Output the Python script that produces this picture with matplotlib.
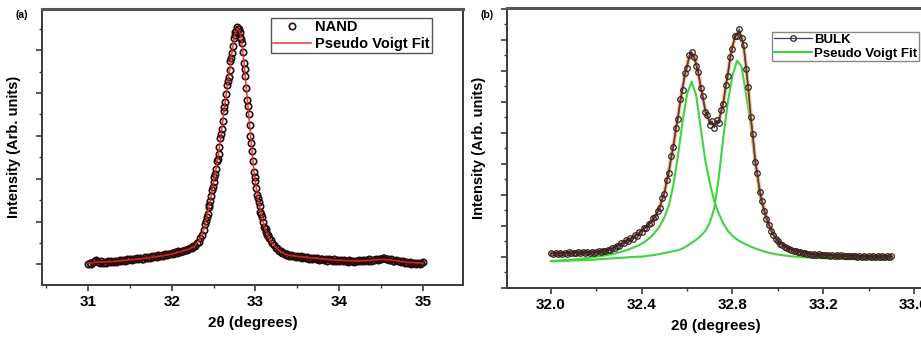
import matplotlib
matplotlib.use("Agg")
import matplotlib.pyplot as plt
from matplotlib.ticker import MultipleLocator, FormatStrFormatter

plt.rcParams['font.family'] = ['Liberation Sans', 'DejaVu Sans']
plt.rcParams['font.weight'] = 'bold'

# ---------------- Panel (a): NAND ----------------
nand_x = [
    31.00, 31.02, 31.04, 31.06, 31.08, 31.10, 31.12, 31.14, 31.16, 31.18,
    31.20, 31.22, 31.24, 31.26, 31.28, 31.30, 31.32, 31.34, 31.36, 31.38,
    31.40, 31.42, 31.44, 31.46, 31.48, 31.50, 31.52, 31.54, 31.56, 31.58,
    31.60, 31.62, 31.64, 31.66, 31.68, 31.70, 31.72, 31.74, 31.76, 31.78,
    31.80, 31.82, 31.84, 31.86, 31.88, 31.90, 31.92, 31.94, 31.96, 31.98,
    32.00, 32.02, 32.04, 32.06, 32.08, 32.10, 32.12, 32.14, 32.16, 32.18,
    32.20, 32.22, 32.24, 32.26, 32.28, 32.30, 32.32, 32.34, 32.36, 32.38,
    32.40, 32.41, 32.42, 32.43, 32.44, 32.45, 32.46, 32.47, 32.48, 32.49,
    32.50, 32.51, 32.52, 32.53, 32.54, 32.55, 32.56, 32.57, 32.58, 32.59,
    32.60, 32.61, 32.62, 32.63, 32.64, 32.65, 32.66, 32.67, 32.68, 32.69,
    32.70, 32.71, 32.72, 32.73, 32.74, 32.75, 32.76, 32.77, 32.78, 32.79,
    32.80, 32.81, 32.82, 32.83, 32.84, 32.85, 32.86, 32.87, 32.88, 32.89,
    32.90, 32.91, 32.92, 32.93, 32.94, 32.95, 32.96, 32.97, 32.98, 32.99,
    33.00, 33.01, 33.02, 33.03, 33.04, 33.05, 33.06, 33.07, 33.08, 33.09,
    33.10, 33.11, 33.12, 33.13, 33.14, 33.15, 33.16,
    33.18, 33.20, 33.22, 33.24, 33.26, 33.28, 33.30, 33.32, 33.34, 33.36,
    33.38, 33.40, 33.42, 33.44, 33.46, 33.48, 33.50, 33.52, 33.54, 33.56,
    33.58, 33.60, 33.62, 33.64, 33.66, 33.68, 33.70, 33.72, 33.74, 33.76,
    33.78, 33.80, 33.82, 33.84, 33.86, 33.88, 33.90, 33.92, 33.94, 33.96,
    33.98, 34.00, 34.02, 34.04, 34.06, 34.08, 34.10, 34.12, 34.14, 34.16,
    34.18, 34.20, 34.22, 34.24, 34.26, 34.28, 34.30, 34.32, 34.34, 34.36,
    34.38, 34.40, 34.42, 34.44, 34.46, 34.48, 34.50, 34.52, 34.54, 34.56,
    34.58, 34.60, 34.62, 34.64, 34.66, 34.68, 34.70, 34.72, 34.74, 34.76,
    34.78, 34.80, 34.82, 34.84, 34.86, 34.88, 34.90, 34.92, 34.94, 34.96,
    34.98, 35.00,
]
nand_y = [
    2, 4, 1, 5, 8, 10, 6, 3, 7, 4,
    6, 3, 7, 5, 8, 6, 9, 5, 8, 10,
    7, 11, 9, 12, 10, 13, 10, 14, 12, 15,
    12, 16, 14, 13, 17, 15, 18, 16, 19, 17,
    20, 18, 22, 19, 23, 21, 24, 22, 25, 24,
    27, 25, 29, 28, 31, 30, 33, 32, 35, 34,
    37, 38, 40, 43, 45, 51, 54, 63, 69, 82,
    96, 103, 112, 121, 136, 141, 150, 162, 178, 184,
    197, 207, 216, 228, 245, 252, 263, 280, 300, 310,
    323, 342, 366, 374, 386, 405, 428, 436, 447, 463,
    484, 492, 503, 520, 538, 545, 553, 556, 566, 560,
    561, 553, 541, 537, 527, 505, 480, 466, 449, 421,
    392, 376, 358, 332, 305, 289, 271, 245, 221, 209,
    198, 181, 165, 157, 149, 138, 125, 119, 113, 101,
    90, 87, 84, 77, 70, 69, 64,
    58, 50, 47, 40, 39, 33, 32, 27, 27, 23,
    24, 21, 22, 19, 21, 18, 20, 17, 19, 16,
    18, 15, 18, 14, 16, 13, 16, 12, 15, 11,
    14, 12, 10, 13, 9, 12, 10, 8, 12, 9,
    11, 8, 11, 7, 10, 8, 6, 10, 7, 9,
    6, 9, 7, 10, 8, 11, 8, 10, 9, 12,
    9, 11, 10, 13, 11, 14, 12, 15, 16, 13,
    12, 10, 12, 9, 8, 10, 7, 8, 5, 7,
    4, 6, 3, 5, 2, 4, 3, 1, 4, 2,
    3, 5,
]
nand_fit_x = [
    31.0, 31.1, 31.2, 31.3, 31.4, 31.5, 31.6, 31.7, 31.8, 31.9, 32.0, 32.1,
    32.20, 32.22, 32.24, 32.26, 32.28, 32.30, 32.32, 32.34, 32.36, 32.38,
    32.40, 32.42, 32.44, 32.46, 32.48, 32.50, 32.52, 32.54, 32.56, 32.58,
    32.60, 32.62, 32.64, 32.66, 32.68, 32.70, 32.72, 32.74, 32.76, 32.78,
    32.80, 32.82, 32.84, 32.86, 32.88, 32.90, 32.92, 32.94, 32.96, 32.98,
    33.00, 33.02, 33.04, 33.06, 33.08, 33.10, 33.12, 33.14, 33.16, 33.18,
    33.20, 33.22, 33.24, 33.26, 33.28, 33.30, 33.32, 33.34, 33.36, 33.38,
    33.40,
    33.5, 33.6, 33.7, 33.8, 33.9, 34.0, 34.1, 34.2, 34.3, 34.4, 34.5, 34.6,
    34.7, 34.8, 34.9, 35.0,
]
nand_fit_y = [
    3, 5, 6, 7, 9, 11, 13, 15, 18, 21, 25, 30,
    36, 38, 40, 42, 45, 50, 55, 62, 70, 81,
    95, 113, 132, 152, 174, 196, 218, 240, 266, 295,
    327, 359, 390, 422, 450, 478, 506, 533, 552, 561,
    558, 549, 522, 486, 444, 398, 354, 311, 267, 224,
    195, 168, 147, 129, 110, 93, 82, 73, 65, 57,
    51, 46, 41, 38, 34, 31, 28, 26, 24, 23,
    22,
    19, 17, 15, 13, 11, 10, 9, 8, 9, 10, 12, 11,
    8, 5, 4, 3,
]

# ---------------- Panel (b): BULK ----------------
bulk_x = [
    32.00, 32.01, 32.02, 32.03, 32.04, 32.05, 32.06, 32.07, 32.08, 32.09,
    32.10, 32.11, 32.12, 32.13, 32.14, 32.15, 32.16, 32.17, 32.18, 32.19,
    32.20, 32.21, 32.22, 32.23, 32.24, 32.25, 32.26, 32.27, 32.28, 32.29,
    32.30, 32.31, 32.32, 32.33, 32.34, 32.35, 32.36, 32.37, 32.38, 32.39,
    32.40, 32.41, 32.42, 32.43, 32.44, 32.45, 32.46, 32.47, 32.48, 32.49,
    32.50, 32.51, 32.52, 32.53, 32.54, 32.55, 32.56, 32.57, 32.58, 32.59,
    32.60, 32.61, 32.62, 32.63, 32.64, 32.65, 32.66, 32.67, 32.68, 32.69,
    32.70, 32.71, 32.72, 32.73, 32.74, 32.75, 32.76, 32.77, 32.78, 32.79,
    32.80, 32.81, 32.82, 32.83, 32.84, 32.85, 32.86, 32.87, 32.88, 32.89,
    32.90, 32.91, 32.92, 32.93, 32.94, 32.95, 32.96, 32.97, 32.98, 32.99,
    33.00, 33.01, 33.02, 33.03, 33.04, 33.05, 33.06, 33.07, 33.08, 33.09,
    33.10, 33.11, 33.12, 33.13, 33.14, 33.15, 33.16, 33.17, 33.18, 33.19,
    33.20, 33.21, 33.22, 33.23, 33.24, 33.25, 33.26, 33.27, 33.28, 33.29,
    33.30, 33.31, 33.32, 33.33, 33.34, 33.35, 33.36, 33.37, 33.38, 33.39,
    33.40, 33.41, 33.42, 33.43, 33.44, 33.45, 33.46, 33.47, 33.48, 33.49,
    33.50,
]
bulk_y = [
    12, 9, 13, 9, 12, 10, 13, 10, 14, 11,
    13, 12, 14, 11, 15, 12, 15, 12, 16, 13,
    15, 17, 14, 20, 18, 23, 21, 28, 29, 36,
    35, 44, 43, 53, 51, 61, 58, 70, 69, 81,
    82, 95, 94, 108, 109, 125, 128, 150, 158, 190,
    205, 249, 274, 328, 356, 418, 450, 512, 542, 598,
    616, 658, 668, 650, 622, 600, 548, 522, 470, 463,
    430, 442, 420, 444, 436, 478, 497, 558, 590, 652,
    678, 718, 720, 742, 712, 688, 612, 552, 456, 398,
    310, 272, 212, 180, 148, 122, 104, 84, 72, 58,
    50, 41, 37, 31, 29, 24, 22, 18, 18, 14,
    14, 11, 12, 9, 10, 7, 8, 6, 8, 5,
    7, 4, 6, 3, 5, 3, 4, 2, 4, 2,
    3, 1, 3, 1, 3, 0, 2, 0, 2, 0,
    2, -1, 1, -1, 1, -1, 1, 0, 1, -1,
    1,
]
bulk_fit = [
    10, 10, 11, 10, 11, 11, 12, 11, 12, 12,
    12, 13, 12, 13, 13, 13, 14, 13, 14, 14,
    14, 15, 16, 18, 19, 21, 23, 26, 30, 34,
    38, 42, 46, 50, 54, 58, 62, 67, 72, 78,
    85, 91, 97, 104, 112, 121, 132, 146, 163, 185,
    210, 243, 280, 320, 364, 410, 458, 505, 550, 590,
    624, 650, 660, 655, 630, 595, 556, 515, 480, 455,
    440, 432, 430, 434, 445, 470, 505, 550, 598, 645,
    685, 712, 727, 730, 718, 680, 620, 545, 465, 390,
    320, 265, 220, 183, 153, 128, 108, 90, 75, 63,
    54, 46, 40, 35, 31, 27, 24, 21, 19, 17,
    15, 13, 12, 11, 10, 9, 8, 7, 7, 6,
    6, 5, 5, 4, 4, 4, 3, 3, 3, 3,
    2, 2, 2, 2, 2, 1, 1, 1, 1, 1,
    1, 0, 0, 0, 0, 0, 0, 0, 0, 0,
    0,
]
comp_x = [
    32.00, 32.02, 32.04, 32.06, 32.08, 32.10, 32.12, 32.14, 32.16, 32.18,
    32.20, 32.22, 32.24, 32.26, 32.28, 32.30, 32.32, 32.34, 32.36, 32.38,
    32.40, 32.42, 32.44, 32.46, 32.48, 32.50, 32.52, 32.54, 32.56, 32.58,
    32.60, 32.62, 32.64, 32.66, 32.68, 32.70, 32.72, 32.74, 32.76, 32.78,
    32.80, 32.82, 32.84, 32.86, 32.88, 32.90, 32.92, 32.94, 32.96, 32.98,
    33.00, 33.02, 33.04, 33.06, 33.08, 33.10, 33.12, 33.14, 33.16, 33.18,
    33.20, 33.22, 33.24, 33.26, 33.28, 33.30, 33.32, 33.34, 33.36, 33.38,
    33.40, 33.42, 33.44, 33.46, 33.48, 33.50,
]
comp1_y = [
    -14, -13, -12, -11, -10, -9, -8, -6, -4, -2,
    0, 2, 4, 7, 10, 14, 18, 23, 29, 35,
    42, 52, 64, 80, 100, 128, 168, 235, 330, 440,
    530, 570, 525, 420, 315, 240, 180, 140, 108, 84,
    68, 56, 47, 40, 33, 27, 22, 17, 13, 10,
    7, 5, 3, 1, 0, -1, -2, -3, -4, -5,
    -5, -6, -6, -7, -7, -8, -8, -8, -9, -9,
    -9, -10, -10, -10, -10, -10,
]
comp2_y = [
    -15, -15, -14, -14, -13, -12, -12, -11, -11, -10,
    -9, -8, -7, -6, -5, -4, -3, -2, -1, 0,
    0, 2, 4, 6, 9, 12, 15, 18, 21, 27,
    35, 45, 55, 68, 84, 110, 158, 260, 390, 505,
    590, 638, 620, 530, 430, 300, 200, 140, 100, 72,
    52, 40, 31, 24, 19, 15, 11, 8, 6, 4,
    3, 2, 1, 0, -1, -2, -3, -4, -5, -5,
    -6, -7, -7, -8, -8, -9,
]

W, H = 921, 338
fig = plt.figure(figsize=(W / 100, H / 100), dpi=100)
axa = fig.add_axes([42 / W, (H - 285) / H, 421 / W, 276 / H])
axb = fig.add_axes([507 / W, (H - 288) / H, 418 / W, 280 / H])

spine_col = '#3a3a3a'

# ---- panel (a)
axa.plot(nand_x, nand_y, linestyle='none', marker='o', markersize=4.6,
         markerfacecolor='none', markeredgecolor='#2b0c0c', markeredgewidth=1.2,
         label='NAND', zorder=2)
axa.plot(nand_fit_x, nand_fit_y, color='#e02a2a', lw=1.2, alpha=0.85,
         label='Pseudo Voigt Fit', zorder=3)
axa.set_xlim(30.451, 35.478)
axa.set_ylim(-49, 608)
axa.xaxis.set_major_locator(MultipleLocator(1))
axa.xaxis.set_minor_locator(MultipleLocator(0.5))
axa.yaxis.set_major_locator(MultipleLocator(102))
axa.yaxis.set_minor_locator(MultipleLocator(51))
axa.set_yticklabels([])
axa.set_xlabel('2θ (degrees)', fontsize=11, fontweight='bold', labelpad=5)
axa.set_ylabel('Intensity (Arb. units)', fontsize=10.5, fontweight='bold', labelpad=8)

# ---- panel (b)
axb.plot(comp_x, comp1_y, color='#3fd43f', lw=1.5, zorder=2)
axb.plot(comp_x, comp2_y, color='#3fd43f', lw=1.5, zorder=2, label='Pseudo Voigt Fit')
axb.plot(bulk_x, bulk_fit, color='#f2c75c', lw=3.0, alpha=0.8, zorder=3)
axb.plot(bulk_x, bulk_fit, color='#c4303a', lw=1.3, zorder=4)
axb.plot(bulk_x, bulk_y, color='#3b3f6e', lw=0.9, marker='o', markersize=4.0,
         markerfacecolor='none', markeredgecolor='#3a2020', markeredgewidth=0.9,
         zorder=5, label='BULK')
axb.set_xlim(31.806, 33.649)
axb.set_ylim(-102, 810)
axb.xaxis.set_major_locator(MultipleLocator(0.4))
axb.xaxis.set_minor_locator(MultipleLocator(0.2))
axb.xaxis.set_major_formatter(FormatStrFormatter('%.1f'))
axb.yaxis.set_major_locator(MultipleLocator(101))
axb.yaxis.set_minor_locator(MultipleLocator(50.5))
axb.set_yticklabels([])
axb.set_xlabel('2θ (degrees)', fontsize=11, fontweight='bold', labelpad=5)
axb.set_ylabel('Intensity (Arb. units)', fontsize=10.5, fontweight='bold', labelpad=8)

for ax in (axa, axb):
    for s in ax.spines.values():
        s.set_color(spine_col)
        s.set_linewidth(1.4)
    ax.spines['top'].set_linewidth(2.2)
    ax.spines['top'].set_color('#555555')
    ax.tick_params(which='major', direction='out', length=4, width=1.2,
                   colors=spine_col, labelsize=11, pad=3)
    ax.tick_params(which='minor', direction='out', length=2.5, width=1.0,
                   colors=spine_col)
    ax.tick_params(axis='x', labelcolor='black')
    for lab in ax.get_xticklabels():
        lab.set_fontweight('bold')

# legends
ha, la = axa.get_legend_handles_labels()
leg_a = axa.legend(ha, la, loc='upper left', bbox_to_anchor=(271 / W, 1 - 18 / H),
                   bbox_transform=fig.transFigure, prop={'weight': 'bold', 'size': 10.5},
                   frameon=True, fancybox=False, edgecolor='#555555', framealpha=1,
                   handlelength=2.6, handletextpad=0.3, borderpad=0.15,
                   labelspacing=0.2, borderaxespad=0)
leg_a.get_frame().set_linewidth(1.0)

hb, lb = axb.get_legend_handles_labels()
order = [lb.index('BULK'), lb.index('Pseudo Voigt Fit')]
leg_b = axb.legend([hb[i] for i in order], [lb[i] for i in order], loc='upper left',
                   bbox_to_anchor=(772 / W, 1 - 32 / H), bbox_transform=fig.transFigure,
                   prop={'weight': 'bold', 'size': 9.5}, frameon=True, fancybox=False,
                   edgecolor='#888888', framealpha=1, handlelength=2.9,
                   handletextpad=0.2, borderpad=0.12, labelspacing=0.12,
                   borderaxespad=0)
leg_b.get_frame().set_linewidth(1.0)

fig.text(15 / W, 1 - 15 / H, '(a)', fontsize=7.5, fontweight='bold', va='center')
fig.text(480 / W, 1 - 15 / H, '(b)', fontsize=7.5, fontweight='bold', va='center')

fig.savefig('out.png', dpi=100)
